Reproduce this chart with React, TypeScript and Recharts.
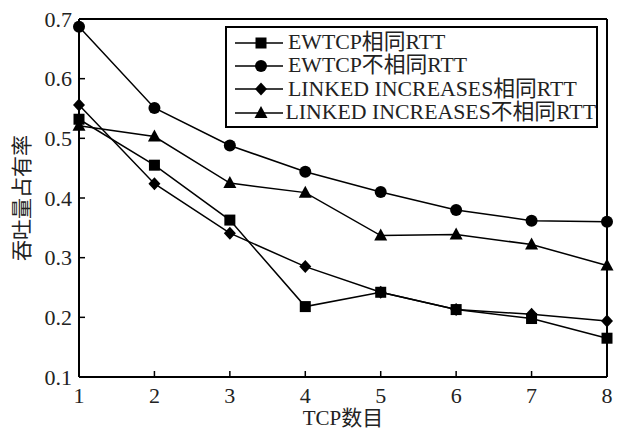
import { LineChart, Line, XAxis, YAxis, ReferenceLine, Legend } from "recharts";

const tcpCounts = [1, 2, 3, 4, 5, 6, 7, 8];
const ewtcpSame = [0.532, 0.455, 0.363, 0.218, 0.242, 0.213, 0.198, 0.165];
const ewtcpDiff = [0.687, 0.551, 0.488, 0.444, 0.41, 0.38, 0.362, 0.36];
const linkedSame = [0.556, 0.424, 0.341, 0.285, 0.242, 0.213, 0.205, 0.194];
const linkedDiff = [0.521, 0.503, 0.425, 0.409, 0.337, 0.339, 0.322, 0.287];
const seriesNames = [
  "EWTCP相同RTT",
  "EWTCP不相同RTT",
  "LINKED INCREASES相同RTT",
  "LINKED INCREASES不相同RTT",
];
const yTicks = [0.1, 0.2, 0.3, 0.4, 0.5, 0.6, 0.7];

const data = tcpCounts.map((n, i) => ({
  n,
  a: ewtcpSame[i],
  b: ewtcpDiff[i],
  c: linkedSame[i],
  d: linkedDiff[i],
}));

const FONT = "'Liberation Serif', 'Times New Roman', 'Noto Sans CJK SC', serif";
const shapes = ["square", "circle", "diamond", "triangle"];
const keys = ["a", "b", "c", "d"];

function Marker({ shape, cx, cy }: { shape: string; cx: number; cy: number }) {
  if (shape === "square") return <rect x={cx - 5.5} y={cy - 5.5} width={11} height={11} fill="#000" />;
  if (shape === "circle") return <circle cx={cx} cy={cy} r={6} fill="#000" />;
  if (shape === "diamond")
    return <polygon points={`${cx},${cy - 6.5} ${cx + 6},${cy} ${cx},${cy + 6.5} ${cx - 6},${cy}`} fill="#000" />;
  return <polygon points={`${cx},${cy - 7} ${cx + 6.5},${cy + 5} ${cx - 6.5},${cy + 5}`} fill="#000" />;
}

function XTick({ x, y, payload }: any) {
  return (
    <g>
      <line x1={x} y1={y} x2={x} y2={y - 6} stroke="#000" strokeWidth={1.5} />
      <text x={x} y={y + 26} textAnchor="middle" fontSize={22} fontFamily={FONT} fill="#222">
        {payload.value}
      </text>
    </g>
  );
}

function YTick({ x, y, payload }: any) {
  return (
    <g>
      <line x1={x} y1={y} x2={x + 6} y2={y} stroke="#000" strokeWidth={1.5} />
      <text x={x - 7} y={y} dy="0.35em" textAnchor="end" fontSize={22} fontFamily={FONT} fill="#222">
        {payload.value.toFixed(1)}
      </text>
    </g>
  );
}

function LegendBox() {
  return (
    <div
      style={{
        width: 373,
        height: 102,
        boxSizing: "border-box",
        border: "2px solid #000",
        padding: "3px 0 0 8px",
        background: "#fff",
        fontFamily: FONT,
        fontSize: 21.8,
        color: "#222",
      }}
    >
      {seriesNames.map((name, i) => (
        <div key={name} style={{ display: "flex", alignItems: "center", height: 23.3, whiteSpace: "nowrap" }}>
          <svg width={50} height={16} style={{ marginRight: 3 }}>
            <line x1={0} y1={8} x2={48} y2={8} stroke="#000" strokeWidth={1.5} />
            <Marker shape={shapes[i]} cx={26} cy={8} />
          </svg>
          <span style={{ lineHeight: "23px" }}>{name}</span>
        </div>
      ))}
    </div>
  );
}

export default function App() {
  return (
    <div style={{ position: "absolute", left: 0, top: 0, width: 621, height: 431, background: "#fff" }}>
      <LineChart width={621} height={431} data={data} margin={{ top: 19, right: 14, left: 0, bottom: 0 }}>
        <XAxis
          dataKey="n"
          type="number"
          domain={[1, 8]}
          ticks={tcpCounts}
          height={54}
          tickSize={0}
          tickMargin={0}
          tickLine={false}
          tick={<XTick />}
          stroke="#000"
          strokeWidth={2}
          label={{ value: "TCP数目", position: "insideBottom", offset: 6, fontSize: 21, fontFamily: FONT, fill: "#222" }}
        />
        <YAxis
          type="number"
          domain={[0.1, 0.7]}
          ticks={yTicks}
          width={79}
          tickSize={0}
          tickMargin={0}
          tickLine={false}
          tick={<YTick />}
          stroke="#000"
          strokeWidth={2}
          label={{
            value: "吞吐量占有率",
            angle: -90,
            position: "insideLeft",
            offset: 22,
            fontSize: 21,
            fontFamily: FONT,
            fill: "#222",
            style: { textAnchor: "middle" },
          }}
        />
        <ReferenceLine y={0.7} stroke="#000" strokeWidth={2} />
        <ReferenceLine x={8} stroke="#000" strokeWidth={2} />
        {keys.map((k, i) => (
          <Line
            key={k}
            dataKey={k}
            name={seriesNames[i]}
            stroke="#000"
            strokeWidth={1.5}
            isAnimationActive={false}
            dot={(p: any) => <Marker key={`${k}-${p.index}`} shape={shapes[i]} cx={p.cx} cy={p.cy} />}
            activeDot={false}
          />
        ))}
        <Legend
          layout="vertical"
          align="center"
          verticalAlign="middle"
          content={() => <LegendBox />}
          wrapperStyle={{ left: 225, top: 26, width: 373, height: 102 }}
        />
      </LineChart>
    </div>
  );
}
